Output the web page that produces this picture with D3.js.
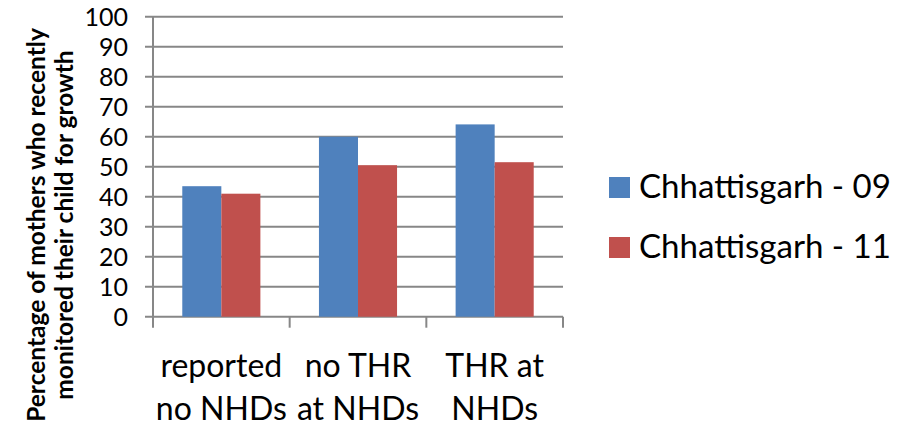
<!DOCTYPE html>
<html>
<head>
<meta charset="utf-8">
<script src="https://cdn.jsdelivr.net/npm/d3@7"></script>
<style>
  body { margin: 0; background: #fff; }
  svg { display: block; font-family: Lato, 'Open Sans', sans-serif; }
</style>
</head>
<body>
<svg id="chart" width="902" height="427"></svg>
<script>
// data
const categories = ['reported no NHDs', 'no THR at NHDs', 'THR at NHDs'];
const categoryLines = [['reported', 'no NHDs'], ['no THR', 'at NHDs'], ['THR at', 'NHDs']];
const seriesNames = ['Chhattisgarh - 09', 'Chhattisgarh - 11'];
const chh09 = [43.5, 60, 64.1];
const chh11 = [41, 50.5, 51.5];
const yTicks = [0, 10, 20, 30, 40, 50, 60, 70, 80, 90, 100];
const colors = ['#4F81BD', '#C0504D'];

const width = 902;
const height = 427;
const plot = { left: 153, right: 563, top: 16.7, bottom: 316.7 };
const gridColor = '#878787';

const svg = d3.select('#chart');

const x0 = d3.scaleBand()
  .domain(categories)
  .range([plot.left, plot.right])
  .paddingInner(0)
  .paddingOuter(0);

const x1 = d3.scaleBand()
  .domain(seriesNames)
  .range([0, x0.bandwidth()])
  .paddingInner(0)
  .paddingOuter(0.75);

const y = d3.scaleLinear()
  .domain([0, 100])
  .range([plot.bottom, plot.top]);

const rows = categories.map((c, i) => ({ category: c, values: [chh09[i], chh11[i]] }));

// gridlines + left tick marks
svg.append('g')
  .selectAll('line')
  .data(yTicks)
  .enter()
  .append('line')
  .attr('x1', plot.left - 8)
  .attr('x2', plot.right)
  .attr('y1', (d) => y(d))
  .attr('y2', (d) => y(d))
  .attr('stroke', gridColor)
  .attr('stroke-width', 2);

// y tick labels
svg.append('g')
  .selectAll('text')
  .data(yTicks)
  .enter()
  .append('text')
  .attr('x', plot.left - 25)
  .attr('y', (d) => y(d))
  .attr('dy', '0.36em')
  .attr('text-anchor', 'end')
  .attr('font-size', 25)
  .attr('fill', '#000')
  .text((d) => d);

// bars
svg.append('g')
  .selectAll('g')
  .data(rows)
  .enter()
  .append('g')
  .attr('transform', (d) => `translate(${x0(d.category)},0)`)
  .selectAll('rect')
  .data((d) => d.values.map((v, j) => ({ name: seriesNames[j], value: v, j })))
  .enter()
  .append('rect')
  .attr('x', (d) => x1(d.name))
  .attr('width', x1.bandwidth())
  .attr('y', (d) => y(d.value))
  .attr('height', (d) => y(0) - y(d.value))
  .attr('fill', (d) => colors[d.j]);

// axes lines
const axisTickLen = 11;
svg.append('line')
  .attr('x1', plot.left).attr('x2', plot.left)
  .attr('y1', plot.top).attr('y2', plot.bottom + axisTickLen)
  .attr('stroke', gridColor).attr('stroke-width', 2);

const boundaries = categories.map((c) => x0(c)).concat([plot.right]);
svg.append('g')
  .selectAll('line')
  .data(boundaries.slice(1))
  .enter()
  .append('line')
  .attr('x1', (d) => d).attr('x2', (d) => d)
  .attr('y1', plot.bottom).attr('y2', plot.bottom + axisTickLen)
  .attr('stroke', gridColor).attr('stroke-width', 2);

// category labels
const xLabels = svg.append('g')
  .selectAll('text')
  .data(categories)
  .enter()
  .append('text')
  .attr('text-anchor', 'middle')
  .attr('font-size', 32)
  .attr('fill', '#000');

xLabels.selectAll('tspan')
  .data((d, i) => categoryLines[i].map((t) => ({ t, c: d })))
  .enter()
  .append('tspan')
  .attr('x', (d) => x0(d.c) + x0.bandwidth() / 2)
  .attr('y', (d, k) => 377 + k * 43)
  .text((d) => d.t);

// y axis title
const title = svg.append('text')
  .attr('transform', 'translate(0,225) rotate(-90)')
  .attr('text-anchor', 'middle')
  .attr('font-size', 24.5)
  .attr('font-weight', 'bold')
  .attr('fill', '#000');
title.append('tspan').attr('x', 0).attr('y', 45).text('Percentage of mothers who recently');
title.append('tspan').attr('x', 0).attr('y', 73).text('monitored their child for growth');

// legend
const legend = svg.append('g')
  .selectAll('g')
  .data(seriesNames)
  .enter()
  .append('g')
  .attr('transform', (d, i) => `translate(609,${177 + i * 60})`);

legend.append('rect')
  .attr('width', 21)
  .attr('height', 21)
  .attr('fill', (d, i) => colors[i]);

const legendText = legend.append('text')
  .attr('x', 30)
  .attr('y', 21)
  .attr('font-size', 34)
  .attr('fill', '#000')
  .text((d) => d);

// fit legend text to the space it takes in the reference (~254px wide)
const widest = d3.max(legendText.nodes(), (n) => n.getComputedTextLength());
if (widest > 0) legendText.attr('font-size', Math.min(36, 34 * 252 / widest));
</script>
</body>
</html>
